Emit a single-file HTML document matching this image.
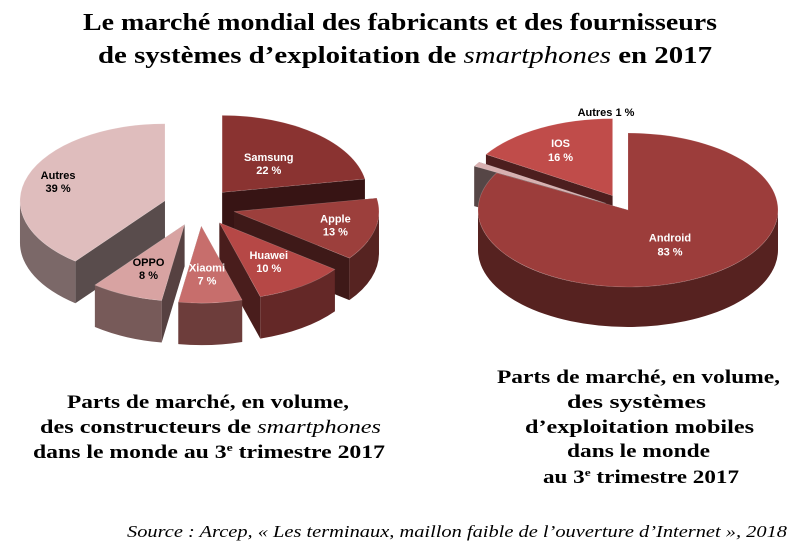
<!DOCTYPE html>
<html><head><meta charset="utf-8"><style>
html,body{margin:0;padding:0;background:#fff;}
svg{display:block;}
.t{font-family:"Liberation Serif",serif;font-weight:bold;fill:#000;}
.lb{font-family:"Liberation Sans",sans-serif;font-weight:bold;font-size:11px;text-anchor:middle;}
</style></head><body>
<svg id="s" width="795" height="547" viewBox="0 0 795 547" xmlns="http://www.w3.org/2000/svg">
<text class="t" x="83" y="30" font-size="24" textLength="634" lengthAdjust="spacingAndGlyphs">Le marché mondial des fabricants et des fournisseurs</text>
<text class="t" x="98" y="63" font-size="24" textLength="614" lengthAdjust="spacingAndGlyphs">de systèmes d’exploitation de <tspan font-style="italic" font-weight="normal">smartphones</tspan> en 2017</text>
<g id="left"></g>
<g id="right"></g>
<g>
<text class="t" x="67" y="408" font-size="19" textLength="282" lengthAdjust="spacingAndGlyphs">Parts de marché, en volume,</text>
<text class="t" x="40" y="433" font-size="19" textLength="341" lengthAdjust="spacingAndGlyphs">des constructeurs de <tspan font-style="italic" font-weight="normal">smartphones</tspan></text>
<text class="t" x="33" y="458" font-size="19" textLength="352" lengthAdjust="spacingAndGlyphs">dans le monde au 3<tspan font-size="11" dy="-7">e</tspan><tspan dy="7"> trimestre 2017</tspan></text>
</g>
<g>
<text class="t" x="497" y="383" font-size="19" textLength="283" lengthAdjust="spacingAndGlyphs">Parts de marché, en volume,</text>
<text class="t" x="567" y="408" font-size="19" textLength="139" lengthAdjust="spacingAndGlyphs">des systèmes</text>
<text class="t" x="525" y="433" font-size="19" textLength="229" lengthAdjust="spacingAndGlyphs">d’exploitation mobiles</text>
<text class="t" x="567" y="457" font-size="19" textLength="143" lengthAdjust="spacingAndGlyphs">dans le monde</text>
<text class="t" x="543" y="483" font-size="19" textLength="196" lengthAdjust="spacingAndGlyphs">au 3<tspan font-size="11" dy="-7">e</tspan><tspan dy="7"> trimestre 2017</tspan></text>
</g>
<text x="127" y="537" font-size="17" font-style="italic" font-family="Liberation Serif,serif" textLength="660" lengthAdjust="spacingAndGlyphs">Source : Arcep, « Les terminaux, maillon faible de l’ouverture d’Internet », 2018</text>
</svg>
<script>
const leftNames=["Samsung","Apple","Huawei","Xiaomi","OPPO","Autres"];
const leftValues=[22,13,10,7,8,39];
const leftColors=["#8a3331","#9c3f3c","#b64846","#c76e6c","#d8a3a2","#dfbdbd"];
const leftExplode=[36,36,36,36,36,36];
const rightNames=["Android","Autres","IOS"];
const rightValues=[83,1,16];
const rightColors=["#9c3d3b","#d8b0b0","#c04c4a"];
const rightExplode=[0,26,32];
const NS="http://www.w3.org/2000/svg";
function shade(hex,f){const n=parseInt(hex.slice(1),16);const r=(n>>16)&255,g=(n>>8)&255,b=n&255;return `rgb(${Math.round(r*f)},${Math.round(g*f)},${Math.round(b*f)})`;}
function mk(tag,attrs,parent){const e=document.createElementNS(NS,tag);for(const k in attrs)e.setAttribute(k,attrs[k]);parent.appendChild(e);return e;}
function pie(g,names,values,colors,expl,cx,cy,rx,ry,d,prefix){
 const tot=values.reduce((a,b)=>a+b,0);
 let a=-Math.PI/2;const sl=[];
 values.forEach((v,i)=>{const a0=a,a1=a+v/tot*2*Math.PI;a=a1;const m=(a0+a1)/2;
  sl.push({i,a0,a1,m,ox:cx+Math.cos(m)*expl[i],oy:cy+Math.sin(m)*expl[i]*ry/rx});});
 const order=sl.slice().sort((p,q)=>Math.sin(p.m)-Math.sin(q.m));
 order.forEach(s=>{
  const P=t=>[s.ox+rx*Math.cos(t),s.oy+ry*Math.sin(t)];
  const grp=document.createElementNS(NS,"g");g.appendChild(grp);
  
  
  const side=shade(colors[s.i],0.55);
  [s.a0,s.a1].forEach(t=>{const p=P(t);
   mk("path",{d:`M${s.ox},${s.oy}L${p[0]},${p[1]}L${p[0]},${p[1]+d}L${s.ox},${s.oy+d}Z`,fill:shade(colors[s.i],0.4)},grp);});
  const lo=Math.max(s.a0,0),hi=Math.min(s.a1,Math.PI);
  const segs=[[lo,hi],[Math.max(s.a0,2*Math.PI),Math.min(s.a1,3*Math.PI)]];
  segs.forEach(([u,w])=>{if(w<=u)return;const p0=P(u),p1=P(w);const big=(w-u)>Math.PI?1:0;
   mk("path",{d:`M${p0[0]},${p0[1]}A${rx},${ry} 0 ${big} 1 ${p1[0]},${p1[1]}L${p1[0]},${p1[1]+d}A${rx},${ry} 0 ${big} 0 ${p0[0]},${p0[1]+d}Z`,fill:side},grp);});
  const p0=P(s.a0),p1=P(s.a1);const big=(s.a1-s.a0)>Math.PI?1:0;
  mk("path",{d:`M${s.ox},${s.oy}L${p0[0]},${p0[1]}A${rx},${ry} 0 ${big} 1 ${p1[0]},${p1[1]}Z`,fill:colors[s.i],stroke:"#fff","stroke-opacity":"0.25","stroke-width":"0.6"},grp);
 });
 return sl;
}
const L=document.getElementById("left");
const LRX=145,LRY=77;
const ls=pie(L,leftNames,leftValues,leftColors,leftExplode,199,207,LRX,LRY,42,'manufacturer');
const lF=[0.5,0.72,0.6,0.62,0.62,0.78];
ls.forEach((s,k)=>{const f=lF[k];const x=s.ox+Math.cos(s.m)*LRX*f,y=s.oy+Math.sin(s.m)*LRY*f;
 const col=k>=4?"#000":"#fff";
 const t=mk("text",{x:x,y:y-2,class:"lb"},L);t.textContent=leftNames[k];t.style.fill=col;
 
 const t2=mk("text",{x:x,y:y+11,class:"lb"},L);t2.textContent=leftValues[k]+" %";t2.style.fill=col;
 });
const R=document.getElementById("right");
const rs=pie(R,rightNames,rightValues,rightColors,rightExplode,628,210,150,77,40,'os');
rs.forEach((s,k)=>{let x,y;
 if(k===1){x=606;y=116;}else{const f=k===0?0.55:0.72;x=s.ox+Math.cos(s.m)*150*f;y=s.oy+Math.sin(s.m)*77*f+(k===0?-5:0);}
 const t=mk("text",{x:x,y:y,class:"lb"},R);
 
 
 if(k===1){t.style.fill="#000";t.textContent=rightNames[k]+" "+rightValues[k]+" %";}
 else{t.style.fill="#fff";t.textContent=rightNames[k];const t2=mk("text",{x:x,y:y+14,class:"lb"},R);t2.textContent=rightValues[k]+" %";t2.style.fill="#fff";
  
  }});
</script>
</body></html>
